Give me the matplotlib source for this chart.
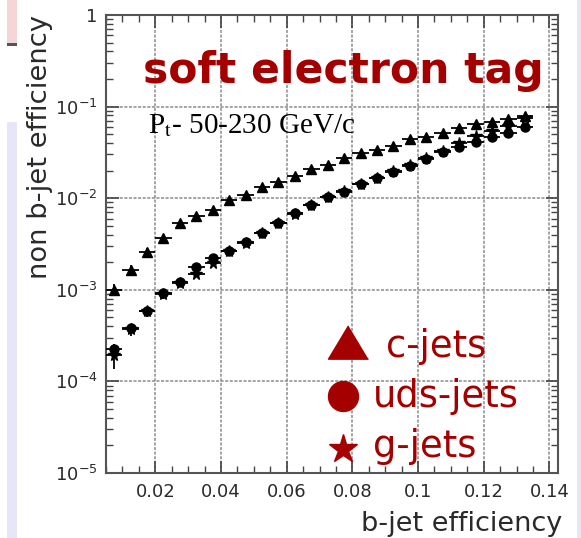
import numpy as np
import matplotlib
matplotlib.use("Agg")
from matplotlib import pyplot as plt
from matplotlib.patches import Rectangle
from matplotlib.ticker import FixedLocator, MultipleLocator, LogLocator, FuncFormatter, NullFormatter

plt.rcParams['mathtext.fontset'] = 'stix'

# b-jet efficiency bin centres (bins of width 0.005)
b_eff = [0.0075, 0.0125, 0.0175, 0.0225, 0.0275, 0.0325, 0.0375, 0.0425, 0.0475,
         0.0525, 0.0575, 0.0625, 0.0675, 0.0725, 0.0775, 0.0825, 0.0875, 0.0925,
         0.0975, 0.1025, 0.1075, 0.1125, 0.1175, 0.1225, 0.1275, 0.1325]
bin_half = 0.0025

# non b-jet efficiency (mistag rate)
c_jets = [1.0e-3, 1.65e-3, 2.57e-3, 3.7e-3, 5.3e-3, 6.4e-3, 7.4e-3, 9.5e-3, 0.0109,
          0.0131, 0.0150, 0.0175, 0.0208, 0.0231, 0.0274, 0.0310, 0.0337, 0.0373,
          0.0441, 0.0468, 0.0513, 0.0578, 0.0638, 0.0682, 0.0727, 0.0793]
uds_jets = [2.25e-4, 3.79e-4, 5.93e-4, 9.16e-4, 1.21e-3, 1.76e-3, 2.21e-3, 2.68e-3, 3.29e-3,
            4.22e-3, 5.42e-3, 6.85e-3, 8.45e-3, 0.0104, 0.0118, 0.0142, 0.0165, 0.0192,
            0.0225, 0.0269, 0.0316, 0.0362, 0.0406, 0.0461, 0.0513, 0.0593]
g_jets = [1.95e-4, 3.7e-4, 5.8e-4, 8.9e-4, 1.18e-3, 1.48e-3, 1.95e-3, 2.65e-3, 3.25e-3,
          4.15e-3, 5.35e-3, 6.75e-3, 8.35e-3, 0.0103, 0.0119, 0.0144, 0.0168, 0.0197,
          0.0232, 0.0277, 0.0328, 0.0399, 0.0472, 0.0544, 0.0608, 0.0748]

# relative statistical errors
rel_err = [0.15, 0.12, 0.10, 0.08, 0.07, 0.06, 0.05, 0.05, 0.045, 0.04, 0.04, 0.035, 0.035,
           0.03, 0.03, 0.03, 0.03, 0.025, 0.025, 0.025, 0.025, 0.02, 0.02, 0.02, 0.02, 0.02]
g_rel_err = [0.30, 0.15, 0.12, 0.10, 0.08, 0.07, 0.06, 0.05, 0.05, 0.045, 0.04, 0.04, 0.035,
             0.035, 0.03, 0.03, 0.03, 0.03, 0.025, 0.025, 0.025, 0.025, 0.02, 0.02, 0.02, 0.02]

x_ticks = [0.02, 0.04, 0.06, 0.08, 0.10, 0.12, 0.14]
x_tick_labels = ['0.02', '0.04', '0.06', '0.08', '0.1', '0.12', '0.14']
y_ticks = [1e-5, 1e-4, 1e-3, 1e-2, 1e-1, 1]

legend_labels = ['c-jets', 'uds-jets', 'g-jets']

red = '#a50000'
ink = '#2a2a2a'

fig = plt.figure(figsize=(5.81, 5.38), dpi=100)
fig.patch.set_facecolor('white')

# slide leftovers at the edges
fig.patches.append(Rectangle((7/581, 1 - 43/538), 9.5/581, 43/538, transform=fig.transFigure,
                             facecolor='#f5d6d6', edgecolor='none'))
fig.patches.append(Rectangle((7/581, 1 - 46/538), 9.5/581, 2.5/538, transform=fig.transFigure,
                             facecolor='#555555', edgecolor='none'))
fig.patches.append(Rectangle((7/581, 0), 9.5/581, 1 - 122/538, transform=fig.transFigure,
                             facecolor='#e6e6f9', edgecolor='none'))
fig.patches.append(Rectangle((577/581, 0), 4/581, 1, transform=fig.transFigure,
                             facecolor='#e6e6f9', edgecolor='none'))

ax = fig.add_axes([106/581, 65/538, 452/581, 458/538])

x = np.array(b_eff)
for vals, errs, mk, ms in [(g_jets, g_rel_err, '*', 8.5),
                           (uds_jets, rel_err, 'o', 6.5),
                           (c_jets, rel_err, '^', 7)]:
    y = np.array(vals)
    e = y * np.array(errs)
    ax.errorbar(x, y, xerr=bin_half, yerr=e, fmt=mk, color='black', ms=ms,
                elinewidth=1.3, capsize=0, zorder=3)

ax.set_yscale('log')
ax.set_xlim(0.005, 0.1426)
ax.set_ylim(1e-5, 1)

ax.xaxis.set_major_locator(FixedLocator(x_ticks))
ax.set_xticklabels(x_tick_labels)
ax.xaxis.set_minor_locator(MultipleLocator(0.005))
ax.yaxis.set_major_locator(FixedLocator(y_ticks))
ax.yaxis.set_minor_locator(LogLocator(base=10, subs=np.arange(2, 10)))
ax.yaxis.set_minor_formatter(NullFormatter())


def ylab(v, pos):
    if v == 1:
        return '1'
    return r'$\mathdefault{10^{%d}}$' % int(round(np.log10(v)))


ax.yaxis.set_major_formatter(FuncFormatter(ylab))

ax.tick_params(which='both', direction='in', top=True, right=True, colors='#444444',
               labelcolor=ink, labelsize=13)
ax.tick_params(which='major', length=9, width=1.2)
ax.tick_params(which='minor', length=5, width=1.0)
ax.tick_params(axis='x', pad=7)
ax.tick_params(axis='y', pad=6)

ax.grid(True, which='major', color='#8c8c8c', linestyle=(0, (2, 1)), linewidth=1.1)
for sp in ax.spines.values():
    sp.set_color('#555555')
    sp.set_linewidth(1.5)

# axis titles
fig.text(40/581, 1 - 146.5/538, 'non b-jet efficiency', rotation=90, ha='center', va='center',
         fontsize=19.7, color=ink)
fig.text(562/581, 1 - 530.7/538, 'b-jet efficiency', ha='right', va='baseline',
         fontsize=19.5, color=ink)

# headline and kinematic range
fig.text(143/581, 1 - 83/538, 'soft electron tag', fontsize=30.6, fontweight='bold',
         color=red, ha='left', va='baseline')
fig.text(148/581, 1 - 133/538, r'P$_{\mathrm{t}}$- 50-230 GeV/c', fontsize=21,
         family='Liberation Serif', color='black', ha='left', va='baseline')

# legend keys
tri = [(0, 1), (-1.2, -1), (1.2, -1)]
ax.plot([0.536], [0.2867], marker=tri, ms=28.8, color=red, transform=ax.transAxes, clip_on=False)
ax.plot([0.525], [0.1688], marker='o', ms=21.6, color=red, transform=ax.transAxes, clip_on=False)
ax.plot([0.525], [0.0524], marker='*', ms=21.2, color=red, transform=ax.transAxes, clip_on=False)
ax.text(0.6195, 0.2539, legend_labels[0], transform=ax.transAxes, fontsize=26.6, color=red,
        ha='left', va='baseline')
ax.text(0.590, 0.1448, legend_labels[1], transform=ax.transAxes, fontsize=26.6, color=red,
        ha='left', va='baseline')
ax.text(0.590, 0.0356, legend_labels[2], transform=ax.transAxes, fontsize=26.6, color=red,
        ha='left', va='baseline')

fig.savefig('out.png', dpi=100)
